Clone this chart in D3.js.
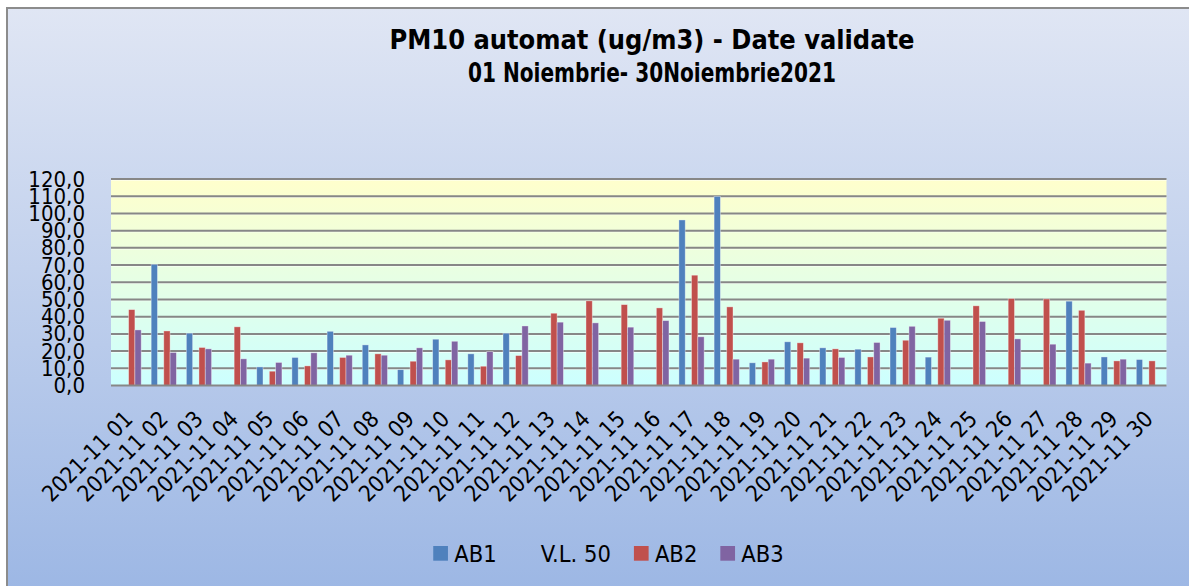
<!DOCTYPE html>
<html><head><meta charset="utf-8">
<script src="https://cdn.jsdelivr.net/npm/d3@7"></script>
<style>
html,body{margin:0;padding:0;background:#fff;overflow:hidden;}
svg{display:block;}
text{font-family:"DejaVu Sans Condensed","DejaVu Sans","Liberation Sans",sans-serif;fill:#000;}
</style></head>
<body>
<svg id="chart" width="1189" height="586"></svg>
<script>
const categories = ["2021-11 01","2021-11 02","2021-11 03","2021-11 04","2021-11 05","2021-11 06","2021-11 07","2021-11 08","2021-11 09","2021-11 10",
"2021-11 11","2021-11 12","2021-11 13","2021-11 14","2021-11 15","2021-11 16","2021-11 17","2021-11 18","2021-11 19","2021-11 20",
"2021-11 21","2021-11 22","2021-11 23","2021-11 24","2021-11 25","2021-11 26","2021-11 27","2021-11 28","2021-11 29","2021-11 30"];
const seriesNames = ["AB1","V.L. 50","AB2","AB3"];
const seriesColors = ["#4f81bd","none","#c0504d","#8064a2"];
const ab1 = [null,70.4,30.4,null,10.8,16.3,31.5,23.6,9.2,26.9,18.4,30.4,null,null,null,null,96.2,109.9,13.2,25.4,21.9,21.1,33.7,16.5,null,null,null,49.0,16.6,15.1];
const vl50 = [];
const ab2 = [44.1,31.7,22.1,34.1,8.3,11.4,16.3,18.4,14.1,14.9,11.2,17.4,42.0,49.2,47.0,45.1,64.1,45.7,13.7,24.8,21.3,16.6,26.3,39.1,46.3,50.5,50.3,43.7,14.3,14.3];
const ab3 = [32.3,19.2,21.3,15.5,13.4,19.0,17.6,17.6,21.9,25.7,19.7,34.6,36.8,36.4,33.9,37.7,28.3,15.3,15.3,15.9,16.3,25.0,34.4,37.9,37.2,27.1,24.0,13.0,15.3,null];
const yTicks = [0,10,20,30,40,50,60,70,80,90,100,110,120];
const titleLines = ["PM10 automat (ug/m3) - Date validate","01 Noiembrie- 30Noiembrie2021"];

const seriesValues = [ab1, vl50, ab2, ab3];
const W = 1189, H = 586;
const svg = d3.select("#chart");
const defs = svg.append("defs");

const bg = defs.append("linearGradient").attr("id","bgGrad").attr("x1",0).attr("y1",0).attr("x2",0).attr("y2",1);
bg.append("stop").attr("offset","0%").attr("stop-color","#e0e6f4");
bg.append("stop").attr("offset","100%").attr("stop-color","#9bb6e4");
const pg = defs.append("linearGradient").attr("id","plotGrad").attr("x1",0).attr("y1",0).attr("x2",0).attr("y2",1);
pg.append("stop").attr("offset","0%").attr("stop-color","#ffffcc");
pg.append("stop").attr("offset","100%").attr("stop-color","#ccffff");

// chart area
svg.append("rect").attr("x",7).attr("y",8).attr("width",W+10).attr("height",H+10)
  .attr("fill","url(#bgGrad)").attr("stroke","#8c8c8c").attr("stroke-width",2);

const plot = {left:111, right:1166.5, top:179, bottom:385.5};
const x = d3.scaleBand().domain(categories).range([plot.left, plot.right]).padding(0);
const xs = d3.scaleBand().domain(seriesNames).range([0, x.bandwidth()]).paddingInner(0).paddingOuter(0.79);
const y = d3.scaleLinear().domain([0,120]).range([plot.bottom, plot.top]);

svg.append("rect").attr("x",plot.left).attr("y",plot.top).attr("width",plot.right-plot.left)
  .attr("height",plot.bottom-plot.top).attr("fill","url(#plotGrad)");

// gridlines
const grid = svg.append("g");
grid.selectAll("line.l").data(yTicks.filter(d=>d>0)).join("line")
  .attr("x1",plot.left).attr("x2",plot.right).attr("y1",d=>y(d)+1.3).attr("y2",d=>y(d)+1.3)
  .attr("stroke","#ffffff").attr("stroke-opacity",0.6).attr("stroke-width",1);
grid.selectAll("line.g").data(yTicks.filter(d=>d>0)).join("line")
  .attr("x1",plot.left).attr("x2",plot.right).attr("y1",d=>y(d)).attr("y2",d=>y(d))
  .attr("stroke","#878787").attr("stroke-width",2);

// bars
const barsG = svg.append("g");
seriesNames.forEach((name, si) => {
  if (seriesColors[si] === "none") return;
  const vals = seriesValues[si];
  const pts = categories.map((c,i)=>({c, v: vals[i]})).filter(d=>d.v!=null);
  barsG.append("g").selectAll("rect").data(pts).join("rect")
    .attr("x", d=>x(d.c)+xs(name))
    .attr("width", xs.bandwidth())
    .attr("y", d=>y(d.v))
    .attr("height", d=>y(0)-y(d.v))
    .attr("fill", seriesColors[si])
    .attr("stroke","rgba(255,255,255,0.45)").attr("stroke-width",0.8);
});

// x axis line
svg.append("line").attr("x1",plot.left).attr("x2",plot.right).attr("y1",y(0)).attr("y2",y(0))
  .attr("stroke","#878787").attr("stroke-width",2);

// y axis labels
const yAxis = d3.axisLeft(y).tickValues(yTicks).tickSize(0).tickPadding(0)
  .tickFormat(d=>d3.format(".1f")(d).replace(".",","));
const yg = svg.append("g").attr("transform",`translate(85,0)`).call(yAxis);
yg.select(".domain").remove();
yg.selectAll("text").attr("font-size",22).attr("font-family",null).attr("fill","#000").attr("dy","0.32em");

// x axis labels
const xAxis = d3.axisBottom(x).tickSize(0).tickPadding(0);
const xg = svg.append("g").attr("transform",`translate(0,${plot.bottom})`).call(xAxis);
xg.select(".domain").remove();
xg.selectAll("text").attr("font-size",22.5).attr("font-family",null).attr("fill","#000")
  .attr("text-anchor","end").attr("dy",0).attr("y",0)
  .attr("transform","translate(5.5,35) rotate(-45)");

// title
const titleSpecs = [{cx:652, w:525, y:49},{cx:652, w:368, y:82}];
titleLines.forEach((l,i)=>{
  svg.append("text").attr("x",titleSpecs[i].cx).attr("y",titleSpecs[i].y).attr("text-anchor","middle")
    .attr("font-size",27).attr("font-weight","bold")
    .attr("textLength",titleSpecs[i].w).attr("lengthAdjust","spacingAndGlyphs").text(l);
});

// legend
const lg = svg.append("g");
const items = seriesNames.map((n,i)=>({n, c: seriesColors[i]}));
let cx = 0;
const itemsG = lg.selectAll("g").data(items).join("g");
itemsG.append("rect").attr("width",14.7).attr("height",14.7).attr("y",-15.5)
  .attr("fill",d=>d.c==="none"?"none":d.c);
itemsG.append("text").attr("x",21).attr("y",0).attr("font-size",23.5).text(d=>d.n);
itemsG.each(function(){
  const w = 21 + this.querySelector("text").getComputedTextLength();
  d3.select(this).attr("transform",`translate(${cx},0)`);
  cx += w + 23;
});
const total = cx - 23;
lg.attr("transform",`translate(${608.5 - total/2},561.5)`);
</script>
</body></html>
